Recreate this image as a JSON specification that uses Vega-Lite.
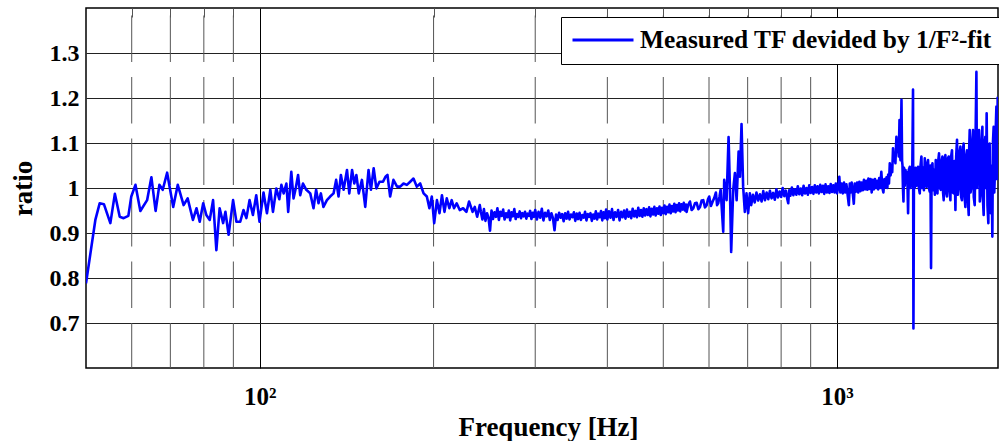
{
  "$schema": "https://vega.github.io/schema/vega-lite/v6.json",
  "width": 912,
  "height": 360,
  "autosize": {"type": "none"},
  "padding": {"left": 86, "top": 8, "right": 1, "bottom": 73},
  "background": "white",
  "config": {"view": {"stroke": "#000", "strokeWidth": 1.5}, "font": "Liberation Serif"},
  "datasets": {
    "minor": [{"f": 60}, {"f": 70}, {"f": 80}, {"f": 90}, {"f": 200}, {"f": 300}, {"f": 400}, {"f": 500}, {"f": 600}, {"f": 700}, {"f": 800}, {"f": 900}],
    "tf": [
      {"f": 50, "r": 0.788}, {"f": 51.9, "r": 0.929}, {"f": 52.8, "r": 0.966}, {"f": 53.7, "r": 0.964}, {"f": 55.1, "r": 0.922},
      {"f": 56.1, "r": 0.987}, {"f": 57.2, "r": 0.936}, {"f": 58.1, "r": 0.933}, {"f": 59.2, "r": 0.938}, {"f": 59.9, "r": 0.981},
      {"f": 60.9, "r": 1.007}, {"f": 62.1, "r": 0.949}, {"f": 63.8, "r": 0.973}, {"f": 64.9, "r": 1.024}, {"f": 66.0, "r": 0.949},
      {"f": 67.0, "r": 1.007}, {"f": 67.9, "r": 0.996}, {"f": 69.1, "r": 1.034}, {"f": 70.8, "r": 0.958}, {"f": 72.1, "r": 1.007},
      {"f": 73.8, "r": 0.962}, {"f": 75.0, "r": 0.977}, {"f": 76.6, "r": 0.929}, {"f": 77.7, "r": 0.955}, {"f": 78.7, "r": 0.925},
      {"f": 79.8, "r": 0.966}, {"f": 80.8, "r": 0.94}, {"f": 81.9, "r": 0.929}, {"f": 83.0, "r": 0.973}, {"f": 84.1, "r": 0.862},
      {"f": 85.2, "r": 0.955}, {"f": 86.4, "r": 0.922}, {"f": 87.2, "r": 0.947}, {"f": 88.3, "r": 0.896}, {"f": 89.9, "r": 0.973},
      {"f": 91.1, "r": 0.925}, {"f": 92.5, "r": 0.925}, {"f": 93.7, "r": 0.951}, {"f": 94.8, "r": 0.933}, {"f": 96.0, "r": 0.973},
      {"f": 97.3, "r": 0.94}, {"f": 98.6, "r": 0.984}, {"f": 99.9, "r": 0.925}, {"f": 101.5, "r": 0.99}, {"f": 102.9, "r": 0.944},
      {"f": 104.3, "r": 0.996}, {"f": 105.4, "r": 0.947}, {"f": 106.8, "r": 0.999}, {"f": 108.1, "r": 0.975}, {"f": 109.0, "r": 1.007},
      {"f": 110.0, "r": 0.988}, {"f": 111.2, "r": 1.010}, {"f": 112.0, "r": 0.947}, {"f": 113.4, "r": 1.036}, {"f": 114.4, "r": 0.977},
      {"f": 115.4, "r": 0.999}, {"f": 116.5, "r": 1.029}, {"f": 117.5, "r": 0.984}, {"f": 118.8, "r": 1.010}, {"f": 120.4, "r": 0.996},
      {"f": 122.3, "r": 0.988}, {"f": 123.9, "r": 0.955}, {"f": 125.2, "r": 0.996}, {"f": 126.4, "r": 0.966}, {"f": 127.6, "r": 0.988},
      {"f": 128.9, "r": 0.958}, {"f": 130.7, "r": 0.973}, {"f": 132.4, "r": 0.981}, {"f": 134.2, "r": 0.988}, {"f": 135.6, "r": 1.018},
      {"f": 136.9, "r": 0.981}, {"f": 138.2, "r": 1.029}, {"f": 139.7, "r": 0.996}, {"f": 141.6, "r": 1.040}, {"f": 142.9, "r": 0.988},
      {"f": 144.5, "r": 1.040}, {"f": 145.8, "r": 1.010}, {"f": 147.0, "r": 1.029}, {"f": 148.4, "r": 0.988}, {"f": 150.3, "r": 1.018},
      {"f": 152.3, "r": 0.958}, {"f": 154.3, "r": 1.040}, {"f": 155.8, "r": 0.996}, {"f": 157.5, "r": 1.044}, {"f": 159.2, "r": 0.999},
      {"f": 161.2, "r": 1.014}, {"f": 163.5, "r": 1.014}, {"f": 165.1, "r": 1.025}, {"f": 166.4, "r": 1.029}, {"f": 168.2, "r": 0.981},
      {"f": 170.4, "r": 1.018}, {"f": 172.9, "r": 1.003}, {"f": 175.1, "r": 1.003}, {"f": 177.4, "r": 1.010}, {"f": 179.8, "r": 1.007},
      {"f": 182.2, "r": 1.014}, {"f": 184.6, "r": 1.021}, {"f": 187.1, "r": 1.003}, {"f": 189.6, "r": 1.010}, {"f": 192.2, "r": 0.988},
      {"f": 194.7, "r": 0.981}, {"f": 196.7, "r": 0.955}, {"f": 198.6, "r": 0.981}, {"f": 200.5, "r": 0.922}, {"f": 202.7, "r": 0.973},
      {"f": 204.8, "r": 0.944}, {"f": 206.8, "r": 0.984}, {"f": 208.9, "r": 0.947}, {"f": 210.8, "r": 0.977}, {"f": 213.0, "r": 0.955},
      {"f": 215.0, "r": 0.973}, {"f": 217.0, "r": 0.955}, {"f": 219.3, "r": 0.966}, {"f": 222.0, "r": 0.951}, {"f": 225.0, "r": 0.955},
      {"f": 228.0, "r": 0.947}, {"f": 230.4, "r": 0.970}, {"f": 233.7, "r": 0.947}, {"f": 235.7, "r": 0.958}, {"f": 238.0, "r": 0.936},
      {"f": 240.5, "r": 0.962},
      {"f": 241.5, "r": 0.948}, {"f": 243, "r": 0.93}, {"f": 244.5, "r": 0.953}, {"f": 246, "r": 0.927}, {"f": 247.5, "r": 0.944},
      {"f": 249, "r": 0.934}, {"f": 250.5, "r": 0.905}, {"f": 252, "r": 0.95}, {"f": 253.5, "r": 0.931}, {"f": 255, "r": 0.946},
      {"f": 256.5, "r": 0.936}, {"f": 258, "r": 0.955}, {"f": 259.5, "r": 0.929}, {"f": 261, "r": 0.947}, {"f": 262.5, "r": 0.938},
      {"f": 264, "r": 0.952}, {"f": 265.5, "r": 0.93}, {"f": 267, "r": 0.944}, {"f": 268.5, "r": 0.935}, {"f": 270, "r": 0.95},
      {"f": 271.5, "r": 0.928}, {"f": 273, "r": 0.946}, {"f": 274.5, "r": 0.937}, {"f": 276, "r": 0.953}, {"f": 277.5, "r": 0.931},
      {"f": 279, "r": 0.942}, {"f": 280.5, "r": 0.936}, {"f": 282, "r": 0.948}, {"f": 283.5, "r": 0.933}, {"f": 285, "r": 0.944},
      {"f": 286.5, "r": 0.937}, {"f": 288, "r": 0.947}, {"f": 289.5, "r": 0.932}, {"f": 291, "r": 0.943}, {"f": 292.5, "r": 0.938},
      {"f": 294, "r": 0.949}, {"f": 295.5, "r": 0.931}, {"f": 297, "r": 0.945}, {"f": 298.5, "r": 0.936},
      {"f": 300, "r": 0.951}, {"f": 302, "r": 0.93}, {"f": 304, "r": 0.947}, {"f": 306, "r": 0.934}, {"f": 308, "r": 0.954},
      {"f": 310, "r": 0.928}, {"f": 312, "r": 0.945}, {"f": 314, "r": 0.937}, {"f": 316, "r": 0.95}, {"f": 318, "r": 0.929},
      {"f": 320, "r": 0.944}, {"f": 322, "r": 0.933}, {"f": 324, "r": 0.906}, {"f": 326, "r": 0.941}, {"f": 328, "r": 0.929},
      {"f": 330, "r": 0.945}, {"f": 332, "r": 0.934}, {"f": 334, "r": 0.942}, {"f": 336, "r": 0.926}, {"f": 338, "r": 0.944},
      {"f": 340, "r": 0.932}, {"f": 342, "r": 0.947}, {"f": 344, "r": 0.93}, {"f": 346, "r": 0.941}, {"f": 348, "r": 0.935},
      {"f": 350, "r": 0.946}, {"f": 352, "r": 0.927}, {"f": 354, "r": 0.943}, {"f": 356, "r": 0.931}, {"f": 358, "r": 0.945},
      {"f": 360, "r": 0.929}, {"f": 362, "r": 0.94}, {"f": 364, "r": 0.934}, {"f": 366, "r": 0.947}, {"f": 368, "r": 0.928},
      {"f": 370, "r": 0.942}, {"f": 372, "r": 0.936}, {"f": 374, "r": 0.944}, {"f": 376, "r": 0.927}, {"f": 378, "r": 0.941},
      {"f": 380, "r": 0.932}, {"f": 382, "r": 0.948}, {"f": 384, "r": 0.93}, {"f": 386, "r": 0.943}, {"f": 388, "r": 0.935},
      {"f": 390, "r": 0.949}, {"f": 392, "r": 0.928}, {"f": 394, "r": 0.946}, {"f": 396, "r": 0.933}, {"f": 398, "r": 0.952},
      {"f": 400, "r": 0.93}, {"f": 402.5, "r": 0.948}, {"f": 405, "r": 0.934}, {"f": 407.5, "r": 0.953}, {"f": 410, "r": 0.929},
      {"f": 412.5, "r": 0.946}, {"f": 415, "r": 0.936}, {"f": 417.5, "r": 0.951}, {"f": 420, "r": 0.928}, {"f": 422.5, "r": 0.947},
      {"f": 425, "r": 0.935}, {"f": 427.5, "r": 0.95}, {"f": 430, "r": 0.932}, {"f": 432.5, "r": 0.952}, {"f": 435, "r": 0.936},
      {"f": 437.5, "r": 0.947}, {"f": 440, "r": 0.933}, {"f": 442.5, "r": 0.954}, {"f": 445, "r": 0.937}, {"f": 447.5, "r": 0.949},
      {"f": 450, "r": 0.935}, {"f": 452.5, "r": 0.956}, {"f": 455, "r": 0.938}, {"f": 457.5, "r": 0.951}, {"f": 460, "r": 0.936},
      {"f": 462.5, "r": 0.955}, {"f": 465, "r": 0.939}, {"f": 467.5, "r": 0.953}, {"f": 470, "r": 0.94}, {"f": 472.5, "r": 0.957},
      {"f": 475, "r": 0.937}, {"f": 477.5, "r": 0.954}, {"f": 480, "r": 0.941}, {"f": 482.5, "r": 0.958}, {"f": 485, "r": 0.939},
      {"f": 487.5, "r": 0.955}, {"f": 490, "r": 0.943}, {"f": 492.5, "r": 0.959}, {"f": 495, "r": 0.94}, {"f": 497.5, "r": 0.956},
      {"f": 500, "r": 0.944}, {"f": 502.5, "r": 0.961}, {"f": 505, "r": 0.942}, {"f": 507.5, "r": 0.958}, {"f": 510, "r": 0.946},
      {"f": 512.5, "r": 0.963}, {"f": 515, "r": 0.944}, {"f": 517.5, "r": 0.96}, {"f": 520, "r": 0.948}, {"f": 522.5, "r": 0.965},
      {"f": 525, "r": 0.946}, {"f": 527.5, "r": 0.962}, {"f": 530, "r": 0.95}, {"f": 532.5, "r": 0.966}, {"f": 535, "r": 0.948},
      {"f": 537.5, "r": 0.964}, {"f": 540, "r": 0.952}, {"f": 542.5, "r": 0.967}, {"f": 545, "r": 0.95}, {"f": 547.5, "r": 0.963},
      {"f": 548.7, "r": 0.947}, {"f": 552, "r": 0.962}, {"f": 556.1, "r": 0.970}, {"f": 559.8, "r": 0.951}, {"f": 563.5, "r": 0.955},
      {"f": 567.3, "r": 0.966}, {"f": 571.2, "r": 0.967}, {"f": 575, "r": 0.953}, {"f": 578.9, "r": 0.958}, {"f": 582.6, "r": 0.972},
      {"f": 586.4, "r": 0.973}, {"f": 590.4, "r": 0.957}, {"f": 594.4, "r": 0.962}, {"f": 597.5, "r": 0.975}, {"f": 600.5, "r": 0.981},
      {"f": 604.6, "r": 0.96}, {"f": 608.8, "r": 0.970}, {"f": 612.8, "r": 0.978}, {"f": 616.8, "r": 0.990}, {"f": 619.6, "r": 0.962},
      {"f": 622.5, "r": 0.966}, {"f": 625.5, "r": 0.98}, {"f": 628.5, "r": 0.996}, {"f": 635.0, "r": 0.903}, {"f": 637.5, "r": 1.018},
      {"f": 643.6, "r": 0.973}, {"f": 648.7, "r": 1.113}, {"f": 652.1, "r": 1.003}, {"f": 655.5, "r": 0.858}, {"f": 660.8, "r": 0.996},
      {"f": 665.3, "r": 1.033}, {"f": 669.9, "r": 0.973}, {"f": 675.2, "r": 1.081}, {"f": 678.7, "r": 1.025}, {"f": 683.1, "r": 1.142},
      {"f": 687.5, "r": 1.003}, {"f": 692.2, "r": 0.947}, {"f": 696.8, "r": 0.988}, {"f": 701.4, "r": 0.944}, {"f": 706.2, "r": 0.988},
      {"f": 710, "r": 0.962}, {"f": 715, "r": 0.985}, {"f": 720, "r": 0.968}, {"f": 725, "r": 0.99}, {"f": 730, "r": 0.972},
      {"f": 735, "r": 0.986}, {"f": 740, "r": 0.97}, {"f": 745, "r": 0.993}, {"f": 750, "r": 0.973}, {"f": 755, "r": 0.99},
      {"f": 760, "r": 0.975}, {"f": 765, "r": 0.994}, {"f": 770, "r": 0.977}, {"f": 775, "r": 0.989}, {"f": 780, "r": 0.974},
      {"f": 785, "r": 0.997}, {"f": 790, "r": 0.979}, {"f": 795, "r": 0.992}, {"f": 800, "r": 0.98}, {"f": 805, "r": 1.0},
      {"f": 810, "r": 0.982}, {"f": 815, "r": 0.994}, {"f": 820, "r": 0.975}, {"f": 823, "r": 0.966}, {"f": 826, "r": 0.995},
      {"f": 830, "r": 0.983}, {"f": 835, "r": 1.001}, {"f": 840, "r": 0.984}, {"f": 845, "r": 0.997}, {"f": 850, "r": 0.985},
      {"f": 855, "r": 1.004}, {"f": 860, "r": 0.986}, {"f": 865, "r": 0.999}, {"f": 870, "r": 0.984}, {"f": 875, "r": 1.005},
      {"f": 880, "r": 0.988}, {"f": 885, "r": 1.0}, {"f": 890, "r": 0.985}, {"f": 895, "r": 1.006}, {"f": 900, "r": 0.989},
      {"f": 905, "r": 1.002}, {"f": 910, "r": 0.987}, {"f": 915, "r": 1.006}, {"f": 920, "r": 0.99}, {"f": 925, "r": 1.004},
      {"f": 930, "r": 0.988}, {"f": 935, "r": 1.007}, {"f": 940, "r": 0.991}, {"f": 945, "r": 1.005}, {"f": 950, "r": 0.987},
      {"f": 955, "r": 1.008}, {"f": 960, "r": 0.99}, {"f": 965, "r": 1.004}, {"f": 970, "r": 0.989}, {"f": 975, "r": 1.009},
      {"f": 980, "r": 0.991}, {"f": 985, "r": 1.006}, {"f": 990, "r": 0.99}, {"f": 995, "r": 1.01}, {"f": 1000, "r": 0.988},
      {"f": 1005, "r": 1.006}, {"f": 1009, "r": 1.025}, {"f": 1013, "r": 0.99}, {"f": 1018, "r": 1.01}, {"f": 1023, "r": 0.988},
      {"f": 1028, "r": 1.012}, {"f": 1033, "r": 0.99}, {"f": 1038, "r": 1.008}, {"f": 1043, "r": 0.985}, {"f": 1048, "r": 0.962},
      {"f": 1052, "r": 1.01}, {"f": 1056, "r": 0.99}, {"f": 1060, "r": 1.012}, {"f": 1064, "r": 0.992}, {"f": 1069, "r": 0.965},
      {"f": 1073, "r": 1.01}, {"f": 1078, "r": 0.992}, {"f": 1083, "r": 1.012}, {"f": 1088, "r": 0.99}, {"f": 1093, "r": 1.014},
      {"f": 1098, "r": 0.993}, {"f": 1103, "r": 1.012}, {"f": 1108, "r": 0.995}, {"f": 1113, "r": 1.018}, {"f": 1118, "r": 0.997},
      {"f": 1123, "r": 1.016}, {"f": 1128, "r": 0.996}, {"f": 1133, "r": 1.021}, {"f": 1138, "r": 0.998}, {"f": 1143, "r": 1.02},
      {"f": 1148, "r": 0.99}, {"f": 1153, "r": 1.018}, {"f": 1158, "r": 0.997}, {"f": 1163, "r": 1.02}, {"f": 1168, "r": 1.0},
      {"f": 1173, "r": 1.016}, {"f": 1178, "r": 0.997}, {"f": 1183, "r": 1.022}, {"f": 1188, "r": 1.0}, {"f": 1193, "r": 1.036},
      {"f": 1198, "r": 1.0}, {"f": 1203, "r": 0.99}, {"f": 1208, "r": 1.02}, {"f": 1213, "r": 1.002}, {"f": 1218, "r": 1.024},
      {"f": 1222, "r": 1.0}, {"f": 1226, "r": 1.03}, {"f": 1230, "r": 1.01}, {"f": 1234, "r": 1.055}, {"f": 1238, "r": 1.028},
      {"f": 1242, "r": 1.05}, {"f": 1246, "r": 1.035}, {"f": 1250, "r": 1.088}, {"f": 1254, "r": 1.06}, {"f": 1258, "r": 1.075},
      {"f": 1262, "r": 1.055}, {"f": 1267, "r": 1.114}, {"f": 1271, "r": 1.08}, {"f": 1275, "r": 1.095}, {"f": 1279, "r": 1.07},
      {"f": 1282.7, "r": 1.151}, {"f": 1285, "r": 1.08}, {"f": 1287.8, "r": 1.062}, {"f": 1292.9, "r": 1.196}, {"f": 1296, "r": 1.06},
      {"f": 1298, "r": 1.051}, {"f": 1300.5, "r": 1.0}, {"f": 1303.2, "r": 0.970}, {"f": 1306, "r": 1.045}, {"f": 1310, "r": 1.005},
      {"f": 1314, "r": 1.04}, {"f": 1319, "r": 1.018}, {"f": 1323, "r": 1.035}, {"f": 1327.4, "r": 0.944}, {"f": 1331, "r": 1.04},
      {"f": 1336.3, "r": 1.047}, {"f": 1340, "r": 1.0}, {"f": 1345.3, "r": 1.03}, {"f": 1349, "r": 1.005}, {"f": 1353.8, "r": 1.219},
      {"f": 1356, "r": 0.688}, {"f": 1359, "r": 1.04}, {"f": 1363.2, "r": 1.0}, {"f": 1367, "r": 1.045}, {"f": 1372.5, "r": 1.005},
      {"f": 1377, "r": 1.04}, {"f": 1381.3, "r": 1.047}, {"f": 1386, "r": 1.0}, {"f": 1390.7, "r": 0.988}, {"f": 1395, "r": 1.05},
      {"f": 1400, "r": 1.07}, {"f": 1404, "r": 1.0}, {"f": 1409.1, "r": 1.045}, {"f": 1414, "r": 0.995}, {"f": 1418.8, "r": 1.066},
      {"f": 1423, "r": 1.01}, {"f": 1428.4, "r": 1.003}, {"f": 1433, "r": 1.055}, {"f": 1437.5, "r": 1.062}, {"f": 1442, "r": 1.0},
      {"f": 1447.2, "r": 0.992}, {"f": 1451, "r": 1.05}, {"f": 1454.7, "r": 0.822}, {"f": 1458, "r": 1.04}, {"f": 1463, "r": 1.055},
      {"f": 1468, "r": 0.995}, {"f": 1472.4, "r": 1.04}, {"f": 1477, "r": 0.985}, {"f": 1482.4, "r": 1.062}, {"f": 1487, "r": 1.0},
      {"f": 1492.4, "r": 0.988}, {"f": 1497, "r": 1.06}, {"f": 1501.8, "r": 1.077}, {"f": 1507, "r": 1.0}, {"f": 1512, "r": 0.996},
      {"f": 1517, "r": 1.06}, {"f": 1522.3, "r": 1.070}, {"f": 1526, "r": 0.99}, {"f": 1530.1, "r": 0.973}, {"f": 1535, "r": 1.06},
      {"f": 1540.4, "r": 1.073}, {"f": 1545, "r": 0.99}, {"f": 1550, "r": 0.981}, {"f": 1555, "r": 1.065}, {"f": 1560.8, "r": 1.070},
      {"f": 1566, "r": 0.995}, {"f": 1571.5, "r": 0.973}, {"f": 1576, "r": 1.07}, {"f": 1581.6, "r": 1.084}, {"f": 1587, "r": 0.99},
      {"f": 1592.4, "r": 0.988}, {"f": 1598, "r": 1.06}, {"f": 1603.2, "r": 0.951}, {"f": 1608, "r": 1.07}, {"f": 1613.5, "r": 1.107},
      {"f": 1619, "r": 0.985}, {"f": 1624.4, "r": 1.003}, {"f": 1630, "r": 1.08}, {"f": 1635.3, "r": 1.092}, {"f": 1640, "r": 0.98},
      {"f": 1645.5, "r": 0.973}, {"f": 1651, "r": 1.08}, {"f": 1656.8, "r": 1.099}, {"f": 1662, "r": 0.985}, {"f": 1668.2, "r": 0.958},
      {"f": 1673, "r": 1.07}, {"f": 1679.1, "r": 1.084}, {"f": 1685, "r": 0.975}, {"f": 1690.5, "r": 0.940}, {"f": 1694, "r": 1.09},
      {"f": 1697.3, "r": 1.129}, {"f": 1703, "r": 0.99}, {"f": 1708.9, "r": 1.003}, {"f": 1714, "r": 1.1}, {"f": 1719.9, "r": 1.129},
      {"f": 1725, "r": 0.98}, {"f": 1731.5, "r": 0.962}, {"f": 1737, "r": 1.1}, {"f": 1743.2, "r": 1.258}, {"f": 1747, "r": 1.0},
      {"f": 1750, "r": 1.040}, {"f": 1756, "r": 1.11}, {"f": 1761.3, "r": 1.129}, {"f": 1767, "r": 0.97}, {"f": 1773.2, "r": 0.988},
      {"f": 1779, "r": 1.1}, {"f": 1785.2, "r": 1.136}, {"f": 1790, "r": 0.97}, {"f": 1794.4, "r": 0.940}, {"f": 1800, "r": 1.09},
      {"f": 1806.5, "r": 1.114}, {"f": 1811, "r": 1.0}, {"f": 1815.9, "r": 1.166}, {"f": 1822, "r": 0.96}, {"f": 1828.3, "r": 0.922},
      {"f": 1833, "r": 1.08}, {"f": 1837.7, "r": 1.099}, {"f": 1842, "r": 0.97}, {"f": 1847.1, "r": 0.944}, {"f": 1852, "r": 1.05},
      {"f": 1857.6, "r": 0.892}, {"f": 1862, "r": 1.1}, {"f": 1867.4, "r": 1.136}, {"f": 1872, "r": 0.99}, {"f": 1877.3, "r": 1.040},
      {"f": 1882, "r": 1.12}, {"f": 1887.9, "r": 1.181}, {"f": 1892, "r": 1.02}, {"f": 1897.7, "r": 1.203}
    ]
  },
  "layer": [
    {
      "data": {"name": "minor"},
      "mark": {"type": "rule", "color": "#555555", "strokeWidth": 1, "strokeDash": [46.5, 15], "strokeDashOffset": 54},
      "encoding": {
        "x": {
          "field": "f", "type": "quantitative",
          "scale": {"type": "log", "domain": [50, 1900], "nice": false},
          "axis": {"orient": "top", "values": [60, 70, 80, 90, 200, 300, 400, 500, 600, 700, 800, 900], "labels": false, "domain": false, "grid": false, "ticks": true, "tickSize": -9, "tickColor": "#555555", "tickWidth": 1, "title": null}
        }
      }
    },
    {
      "data": {"name": "tf"},
      "mark": {"type": "line", "strokeWidth": 2.6, "clip": true, "strokeJoin": "round"},
      "encoding": {
        "x": {
          "field": "f", "type": "quantitative",
          "scale": {"type": "log", "domain": [50, 1900], "nice": false},
          "axis": {
            "orient": "bottom", "values": [100, 1000],
            "labelExpr": "datum.value == 100 ? '10²' : '10³'",
            "labelFont": "Liberation Serif", "labelFontWeight": "bold", "labelFontSize": 25, "labelColor": "#000",
            "labelBaseline": "alphabetic", "labelPadding": 36, "labelAlign": "center",
            "ticks": false, "domain": false,
            "grid": true, "gridColor": "#000", "gridWidth": 1, "gridOpacity": 1,
            "title": "Frequency [Hz]", "titleFont": "Liberation Serif", "titleFontWeight": "bold", "titleFontSize": 27, "titleColor": "#000",
            "titleX": 462, "titleY": 67, "titleBaseline": "alphabetic", "titleAlign": "center"
          }
        },
        "y": {
          "field": "r", "type": "quantitative",
          "scale": {"domain": [0.6, 1.4], "nice": false, "zero": false},
          "axis": {
            "values": [0.7, 0.8, 0.9, 1, 1.1, 1.2, 1.3], "format": "~g",
            "labelFont": "Liberation Serif", "labelFontWeight": "bold", "labelFontSize": 24, "labelColor": "#000", "labelPadding": 7,
            "ticks": false, "domain": false,
            "grid": true, "gridColor": "#222", "gridWidth": 1, "gridOpacity": 1,
            "title": "ratio", "titleFont": "Liberation Serif", "titleFontWeight": "bold", "titleFontSize": 27, "titleColor": "#000", "titlePadding": 12
          }
        },
        "color": {
          "datum": "Measured TF devided by 1/F²-fit",
          "type": "nominal",
          "scale": {"range": ["#0000ff"]},
          "legend": {
            "orient": "none", "legendX": 475, "legendY": 9, "title": null,
            "symbolType": "stroke", "symbolSize": 3721, "symbolStrokeWidth": 3, "clipHeight": 26,
            "labelOffset": 5, "labelFont": "Liberation Serif", "labelFontWeight": "bold", "labelFontSize": 25.4, "labelColor": "#000", "labelLimit": 0,
            "padding": 10, "strokeColor": "#000", "fillColor": "#fff", "cornerRadius": 0
          }
        }
      }
    }
  ]
}
